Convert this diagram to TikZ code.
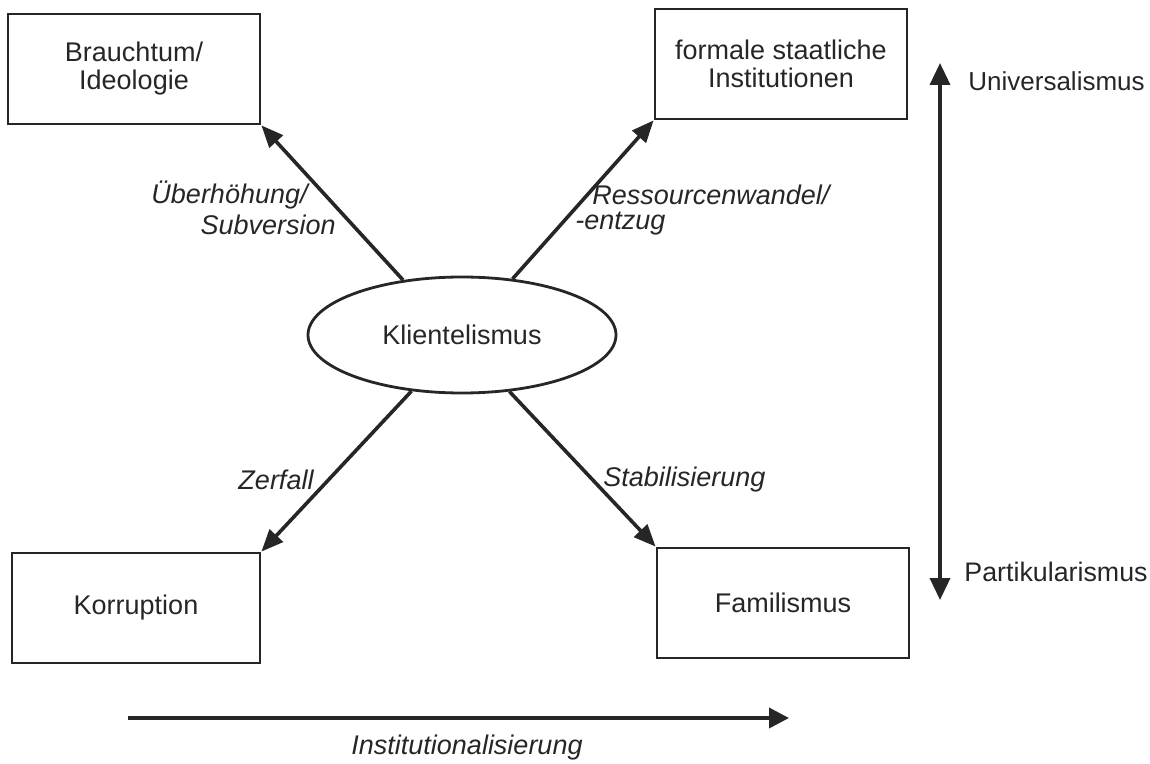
\documentclass[tikz,border=0pt]{standalone}
\usepackage{fontspec}
\setmainfont{Liberation Sans}
\usetikzlibrary{shapes.geometric,arrows.meta}

\begin{document}
\begin{tikzpicture}[x=0.5pt,y=-0.5pt,
  box/.style={draw=black!85,line width=1.4pt,minimum width=126pt,minimum height=55pt,align=center,inner sep=0pt},
  link/.style={line width=1.8pt,-{Triangle[length=11pt,width=9pt]}},
  lab/.style={font=\fontsize{13.5}{14}\selectfont\itshape,inner sep=0pt}]
\tikzstyle{every node}=[font=\fontsize{13.5}{14}\selectfont,text=black!85]
\useasboundingbox (0,0) rectangle (1150,764);
% boxes and the centre
\node[box] (brauch) at (134,69) {Brauchtum/\\Ideologie};
\node[box] (formal) at (781,64) {formale staatliche\\Institutionen};
\node[box,minimum width=124pt] (korr) at (136,608) {Korruption};
\node[box] (famil) at (783,603) {Familismus};
\node[ellipse,draw=black!85,line width=1.4pt,minimum width=154pt,minimum height=58pt,inner sep=0pt] (klient) at (462,335) {Klientelismus};
% arrows out of the centre
\draw[link,black!85] (klient.137) -- (brauch.south east);
\draw[link,black!85] (klient.48) -- (formal.south west);
\draw[link,black!85] (klient.228) -- (korr.north east);
\draw[link,black!85] (klient.310) -- (famil.north west);
\node[lab,anchor=east] (ueber) at (308,195) {Überhöhung/};
\node[lab,anchor=east] (subv) at (336,225) {Subversion};
\node[lab,anchor=west] (ress) at (592,195) {Ressourcenwandel/};
\node[lab,anchor=west] (entz) at (575,224) {-entzug};
\node[lab] (zerf) at (276,480) {Zerfall};
\node[lab,anchor=west] (stab) at (603,480) {Stabilisierung};
% axes
\coordinate (uni) at (940,63);
\coordinate (part) at (940,600);
\coordinate (inst0) at (128,718);
\coordinate (inst1) at (789,718);
\draw[line width=1.8pt,black!85,{Triangle[length=11pt,width=10pt]}-{Triangle[length=11pt,width=10pt]}] (part) -- (uni);
\draw[line width=1.8pt,black!85,-{Triangle[length=10pt,width=10pt]}] (inst0) -- (inst1);
\node[anchor=west,inner sep=0pt,font=\fontsize{13}{14}\selectfont] (univ) at (968,81) {Universalismus};
\node[anchor=west,inner sep=0pt,font=\fontsize{13.4}{14}\selectfont] (partik) at (964,572) {Partikularismus};
\node[lab] (instit) at (467,748) {Institutionalisierung};
\end{tikzpicture}
\end{document}
